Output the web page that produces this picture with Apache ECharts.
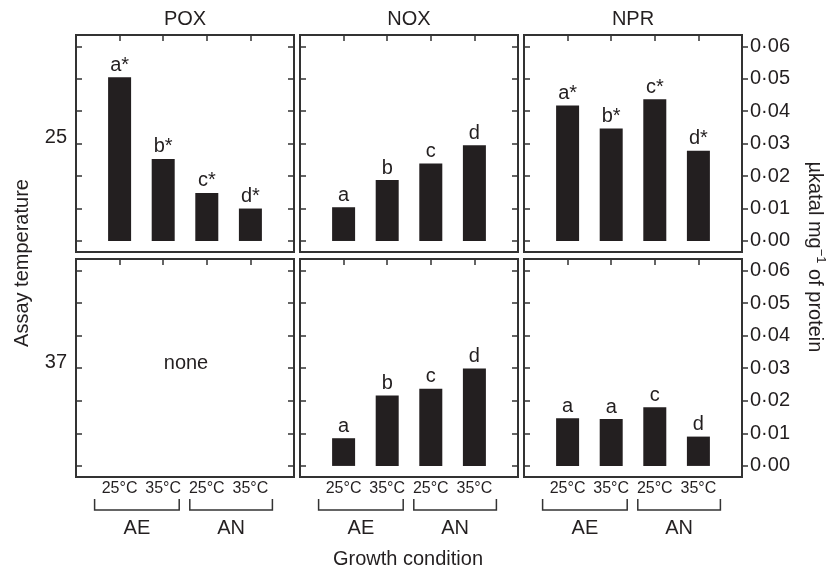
<!DOCTYPE html>
<html>
<head>
<meta charset="utf-8">
<script src="https://cdn.jsdelivr.net/npm/echarts@6/dist/echarts.min.js"></script>
<style>
  html, body { margin: 0; padding: 0; background: #fff; }
  #chart { width: 827px; height: 570px; }
</style>
</head>
<body>
<div id="chart"></div>
<script>
// panel labels
const enzymes = ['POX', 'NOX', 'NPR'];
const assayTemps = ['25', '37'];
const categories = ['', '25°C', '35°C', '25°C', '35°C', ''];
const groups = ['AE', 'AN'];
const yTicks = [0, 0.01, 0.02, 0.03, 0.04, 0.05, 0.06];

// activity (µkatal mg-1 of protein), top row = assay at 25, bottom row = assay at 37
const poxAt25 = [0.0505, 0.0253, 0.0148, 0.0100];
const noxAt25 = [0.0104, 0.0188, 0.0239, 0.0295];
const nprAt25 = [0.0418, 0.0347, 0.0437, 0.0278];
const poxAt37 = [];
const noxAt37 = [0.0085, 0.0216, 0.0237, 0.0299];
const nprAt37 = [0.0146, 0.0144, 0.0180, 0.0090];

// significance letters
const poxAt25Letters = ['a*', 'b*', 'c*', 'd*'];
const noxAt25Letters = ['a', 'b', 'c', 'd'];
const nprAt25Letters = ['a*', 'b*', 'c*', 'd*'];
const poxAt37Letters = [];
const noxAt37Letters = ['a', 'b', 'c', 'd'];
const nprAt37Letters = ['a', 'a', 'c', 'd'];

const FONT = '"Liberation Sans", Arial, sans-serif';
const INK = '#231f20';
const FRAME = '#333';
const Y_MIN = -0.0034;
const Y_MAX = 0.0635;

// layout
const COL_LEFT = [76, 300, 524];
const COL_WIDTH = 218;
const ROW_TOP = [35, 259];
const ROW_HEIGHT = [217, 218];

const panels = [
    { row: 0, col: 0, values: poxAt25, letters: poxAt25Letters },
    { row: 0, col: 1, values: noxAt25, letters: noxAt25Letters },
    { row: 0, col: 2, values: nprAt25, letters: nprAt25Letters },
    { row: 1, col: 0, values: poxAt37, letters: poxAt37Letters },
    { row: 1, col: 1, values: noxAt37, letters: noxAt37Letters },
    { row: 1, col: 2, values: nprAt37, letters: nprAt37Letters }
];

const grid = [];
const xAxis = [];
const yAxis = [];
const series = [];

panels.forEach((p, i) => {
    grid.push({
        left: COL_LEFT[p.col],
        top: ROW_TOP[p.row],
        width: COL_WIDTH,
        height: ROW_HEIGHT[p.row],
        show: true,
        borderColor: FRAME,
        borderWidth: 2,
        backgroundColor: 'transparent',
        outerBoundsMode: 'none'
    });
    // bottom axis (labels on lower row)
    xAxis.push({
        gridIndex: i,
        type: 'category',
        position: 'bottom',
        data: categories,
        boundaryGap: false,
        axisLine: { show: false, onZero: false },
        axisTick: { show: false },
        axisLabel: {
            show: p.row === 1,
            interval: 0,
            margin: 4,
            fontSize: 16,
            color: INK,
            fontFamily: FONT
        }
    });
    // top axis, just inward ticks
    xAxis.push({
        gridIndex: i,
        type: 'category',
        position: 'top',
        data: categories,
        boundaryGap: false,
        axisLine: { show: false, onZero: false },
        axisTick: { show: true, inside: true, length: 6, interval: 0, lineStyle: { color: FRAME, width: 1.5 } },
        axisLabel: { show: false }
    });
    yAxis.push({
        gridIndex: i,
        type: 'value',
        position: 'left',
        min: Y_MIN,
        max: Y_MAX,
        splitLine: { show: false },
        axisLine: { show: false, onZero: false },
        axisTick: { show: true, inside: true, length: 6, customValues: yTicks, lineStyle: { color: FRAME, width: 1.5 } },
        axisLabel: {
            show: p.col === 0,
            customValues: [0.03],
            formatter: () => assayTemps[p.row],
            margin: 9,
            verticalAlign: 'bottom',
            lineHeight: 12,
            fontSize: 20,
            color: INK,
            fontFamily: FONT
        }
    });
    yAxis.push({
        gridIndex: i,
        type: 'value',
        position: 'right',
        min: Y_MIN,
        max: Y_MAX,
        splitLine: { show: false },
        axisLine: { show: false, onZero: false },
        axisTick: { show: true, inside: p.col !== 2, length: 6, customValues: yTicks, lineStyle: { color: FRAME, width: 1.5 } },
        axisLabel: {
            show: p.col === 2,
            customValues: yTicks,
            formatter: (v) => v.toFixed(2).replace('.', '·'),
            margin: 8,
            fontSize: 20,
            color: INK,
            fontFamily: FONT
        }
    });
    if (p.values.length) {
        series.push({
            type: 'bar',
            xAxisIndex: 2 * i,
            yAxisIndex: 2 * i,
            data: ['-', ...p.values, '-'],
            barWidth: 23,
            itemStyle: { color: INK },
            label: {
                show: true,
                position: 'top',
                distance: 2,
                formatter: (params) => p.letters[params.dataIndex - 1],
                fontSize: 20,
                color: INK,
                fontFamily: FONT
            },
            silent: true
        });
    }
});

const textStyle = (text, size, extra) => Object.assign({
    text: text,
    font: size + 'px ' + FONT,
    fill: INK,
    align: 'center',
    verticalAlign: 'middle'
}, extra || {});

const graphic = [];
enzymes.forEach((name, c) => {
    graphic.push({ type: 'text', x: COL_LEFT[c] + COL_WIDTH / 2, y: 19, style: textStyle(name, 20) });
});
graphic.push({
    type: 'text',
    x: 186,
    y: 363,
    style: textStyle('none', 20)
});
graphic.push({
    type: 'text',
    x: 22,
    y: 263,
    rotation: Math.PI / 2,
    style: textStyle('Assay temperature', 20)
});
graphic.push({
    type: 'text',
    x: 817,
    y: 257,
    rotation: -Math.PI / 2,
    style: {
        text: '{a|µkatal mg}{s|−1}{a| of protein}',
        align: 'center',
        verticalAlign: 'middle',
        fill: INK,
        rich: {
            a: { fontSize: 20, fontFamily: FONT, fill: INK, lineHeight: 24, verticalAlign: 'bottom' },
            s: { fontSize: 13, fontFamily: FONT, fill: INK, lineHeight: 24, verticalAlign: 'bottom', padding: [0, 0, 9, 0] }
        }
    }
});
graphic.push({
    type: 'text',
    x: 408,
    y: 559,
    style: textStyle('Growth condition', 20)
});

const chart = echarts.init(document.getElementById('chart'), null, { renderer: 'canvas' });
chart.setOption({
    backgroundColor: '#fff',
    animation: false,
    grid: grid,
    xAxis: xAxis,
    yAxis: yAxis,
    series: series,
    graphic: graphic
});

// group brackets under the lower row
const BRACKET_TOP = 499;
const BRACKET_BOTTOM = 510;
const bracketPad = [[-25, 16], [-17, 22]];
[3, 4, 5].forEach((i) => {
    const axisIdx = 2 * i;
    groups.forEach((g, gi) => {
        const a = chart.convertToPixel({ xAxisIndex: axisIdx }, 1 + gi * 2);
        const b = chart.convertToPixel({ xAxisIndex: axisIdx }, 2 + gi * 2);
        const x1 = a + bracketPad[gi][0];
        const x2 = b + bracketPad[gi][1];
        graphic.push({
            type: 'polyline',
            shape: { points: [[x1, BRACKET_TOP], [x1, BRACKET_BOTTOM], [x2, BRACKET_BOTTOM], [x2, BRACKET_TOP]] },
            style: { stroke: FRAME, lineWidth: 1.5, fill: null }
        });
        graphic.push({
            type: 'text',
            x: (x1 + x2) / 2,
            y: 528,
            style: textStyle(g, 20)
        });
    });
});
chart.setOption({ graphic: graphic });
</script>
</body>
</html>
